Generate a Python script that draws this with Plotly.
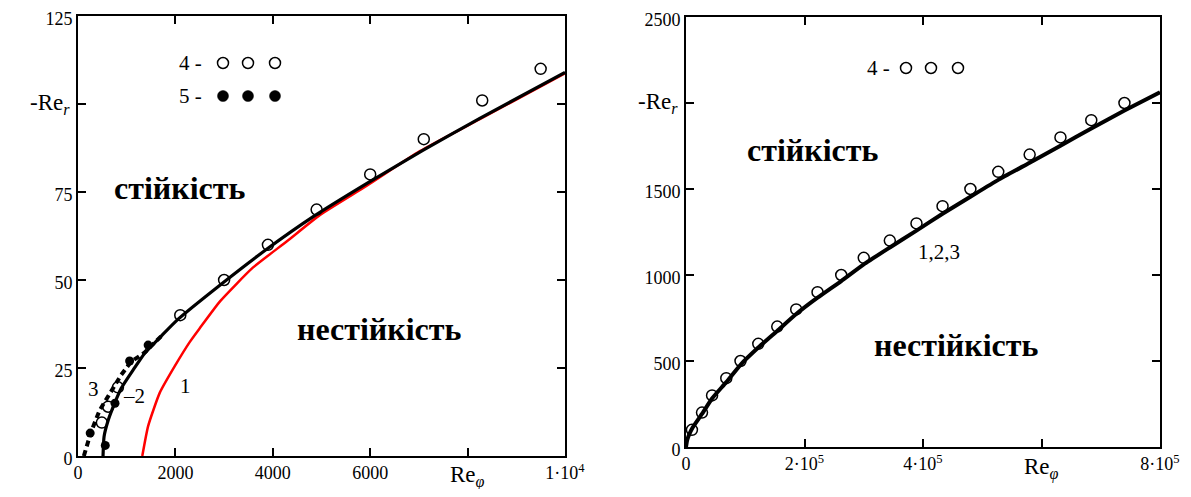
import plotly.graph_objects as go

# ---------------- data: left panel ----------------
re_phi_1 = [1320, 1440, 1680, 1990, 2300, 2500, 2920, 3590, 4290, 4970, 5930, 7020, 8250, 10000]
re_r_1 = [0, 8.5, 18, 25.6, 32.5, 36.3, 44, 53.5, 61, 68.5, 76.8, 86.6, 95.7, 108.7]

re_phi_2 = [514, 535, 617, 753, 890, 1130, 1370, 1705, 2050, 2920, 3880, 4830, 5950, 7080, 8250, 10000]
re_r_2 = [0, 5.5, 10, 15, 19.3, 24.4, 29.2, 34, 38.8, 48.6, 58.8, 68.0, 77.6, 86.8, 95.9, 109]

re_phi_3 = [120, 270, 445, 680, 885, 1090, 1370, 1705]
re_r_3 = [0, 6.9, 13, 18.3, 23, 26.8, 29.4, 34]

re_phi_4 = [490, 620, 820, 2100, 3000, 3900, 4900, 6000, 7100, 8300, 9500]
re_r_4 = [9.5, 14, 19.5, 40, 50, 60, 70, 80, 90, 101, 110]

re_phi_5 = [250, 560, 760, 1060, 1440]
re_r_5 = [6.5, 3, 15, 27, 31.5]

left_xticks = [0, 2000, 4000, 6000, 8000, 10000]
left_xtext = ["0", "2000", "4000", "6000", "", "1·10<sup>4</sup>"]
left_yticks = [0, 25, 50, 75, 100, 125]
left_ytext = ["0", "25", "50", "75", "", "125"]

# ---------------- data: right panel ----------------
re_phi_c = [0, 2e3, 5e3, 11e3, 27e3, 44e3, 68e3, 92e3, 122e3, 154e3, 186e3, 222e3, 262e3, 300e3,
            344e3, 389e3, 433e3, 480e3, 527e3, 580e3, 632e3, 684e3, 740e3, 800e3]
re_r_c = [0, 40, 70, 112, 192, 282, 377, 478, 578, 675, 773, 868, 965, 1062,
          1160, 1258, 1356, 1455, 1553, 1653, 1752, 1852, 1956, 2062]

re_phi_o = [10e3, 27e3, 44e3, 68e3, 92e3, 122e3, 154e3, 186e3, 222e3, 262e3, 300e3, 344e3,
            389e3, 433e3, 480e3, 527e3, 580e3, 632e3, 684e3, 740e3]
re_r_o = [100, 200, 300, 400, 500, 600, 700, 800, 900, 1000, 1100, 1200,
          1300, 1400, 1500, 1600, 1700, 1800, 1900, 2000]

right_xticks = [0, 2e5, 4e5, 6e5, 8e5]
right_xtext = ["0", "2·10<sup>5</sup>", "4·10<sup>5</sup>", "", "8·10<sup>5</sup>"]
right_yticks = [0, 500, 1000, 1500, 2000, 2500]
right_ytext = ["0", "500", "1000", "1500", "", "2500"]

PAGE_W, PAGE_H = 1191, 497
OFF = 8  # default body margin of the html page
W, H = PAGE_W - 2 * OFF, PAGE_H - 2 * OFF
SERIF = "Liberation Serif"

fig = go.Figure()

# left panel traces
fig.add_trace(go.Scatter(x=re_phi_3, y=re_r_3, mode="lines",
                         line=dict(color="black", width=4, dash="6px,4px"), xaxis="x", yaxis="y"))
fig.add_trace(go.Scatter(x=re_phi_1, y=re_r_1, mode="lines",
                         line=dict(color="#ff0000", width=2.5, shape="spline", smoothing=0.5), xaxis="x", yaxis="y"))
fig.add_trace(go.Scatter(x=re_phi_2, y=re_r_2, mode="lines",
                         line=dict(color="black", width=3.2, shape="spline", smoothing=0.5), xaxis="x", yaxis="y"))
fig.add_trace(go.Scatter(x=re_phi_4, y=re_r_4, mode="markers",
                         marker=dict(symbol="circle-open", size=11, color="black", line=dict(width=1.5)),
                         xaxis="x", yaxis="y"))
fig.add_trace(go.Scatter(x=re_phi_5, y=re_r_5, mode="markers",
                         marker=dict(symbol="circle", size=9, color="black"), xaxis="x", yaxis="y"))

# right panel traces
fig.add_trace(go.Scatter(x=re_phi_c, y=re_r_c, mode="lines",
                         line=dict(color="black", width=4, shape="spline", smoothing=0.5), xaxis="x2", yaxis="y2"))
fig.add_trace(go.Scatter(x=re_phi_o, y=re_r_o, mode="markers",
                         marker=dict(symbol="circle-open", size=11, color="black", line=dict(width=1.5)),
                         xaxis="x2", yaxis="y2"))

# panel geometry (page pixels -> paper)
L = dict(x0=78, x1=565, y0=16, y1=456)
R = dict(x0=686, x1=1160, y0=17, y1=447)


def px(x):
    return (x - OFF) / W


def py(y):
    return 1 - (y - OFF) / H


axis_common = dict(showline=True, linecolor="black", linewidth=1.6, mirror="ticks",
                   ticks="inside", ticklen=8, tickwidth=1.5, tickcolor="black",
                   showgrid=False, zeroline=False, automargin=False, ticklabeloverflow="allow",
                   tickfont=dict(family=SERIF, size=18, color="black"))

fig.update_layout(
    width=W, height=H, margin=dict(l=0, r=0, t=0, b=0, autoexpand=False),
    paper_bgcolor="white", plot_bgcolor="white", showlegend=False,
    xaxis=dict(domain=[px(L["x0"]), px(L["x1"])], range=[0, 10000], anchor="y",
               tickmode="array", tickvals=left_xticks, ticktext=left_xtext, **axis_common),
    yaxis=dict(domain=[py(L["y1"]), py(L["y0"])], range=[0, 125], anchor="x", ticklabelshift=3,
               tickmode="array", tickvals=left_yticks, ticktext=left_ytext, **axis_common),
    xaxis2=dict(domain=[px(R["x0"]), px(R["x1"])], range=[0, 8e5], anchor="y2",
                tickmode="array", tickvals=right_xticks, ticktext=right_xtext, **axis_common),
    yaxis2=dict(domain=[py(R["y1"]), py(R["y0"])], range=[0, 2500], anchor="x2", ticklabelshift=3,
                tickmode="array", tickvals=right_yticks, ticktext=right_ytext, **axis_common),
)

ann = []
big = dict(family=SERIF, size=32, color="black")
lab = dict(family=SERIF, size=21, color="black")
axl = dict(family=SERIF, size=23, color="black")

# axis label texts (placed at the 100 / 8000 / 2000 / 6e5 tick positions)
ann.append(dict(text="-Re<i><sub>r</sub></i>", xref="paper", yref="y", x=px(L["x0"] - 6), y=100,
                xanchor="right", yanchor="middle", showarrow=False, font=axl))
ann.append(dict(text="Re<sub><i>φ</i></sub>", xref="x", yref="paper", x=8000, y=py(476),
                xanchor="center", yanchor="middle", showarrow=False, font=axl))
ann.append(dict(text="-Re<i><sub>r</sub></i>", xref="paper", yref="y2", x=px(R["x0"] - 6), y=2000,
                xanchor="right", yanchor="middle", showarrow=False, font=axl))
ann.append(dict(text="Re<sub><i>φ</i></sub>", xref="x2", yref="paper", x=6e5, y=py(468),
                xanchor="center", yanchor="middle", showarrow=False, font=axl))

# region texts
ann.append(dict(text="<b>стійкість</b>", xref="x", yref="y", x=2094, y=76, showarrow=False, font=big))
ann.append(dict(text="<b>нестійкість</b>", xref="x", yref="y", x=6200, y=36, showarrow=False, font=big))
ann.append(dict(text="<b>стійкість</b>", xref="x2", yref="y2", x=2.14e5, y=1725, showarrow=False, font=big))
ann.append(dict(text="<b>нестійкість</b>", xref="x2", yref="y2", x=4.56e5, y=591, showarrow=False, font=big))

# curve labels
ann.append(dict(text="3", xref="x", yref="y", x=308, y=19, showarrow=False, font=lab))
ann.append(dict(text="–2", xref="x", yref="y", x=1150, y=17, showarrow=False, font=lab))
ann.append(dict(text="1", xref="x", yref="y", x=2200, y=20, showarrow=False, font=lab))
ann.append(dict(text="1,2,3", xref="x2", yref="y2", x=4.27e5, y=1135, showarrow=False, font=lab))

# legend keys
legend_rows = [("4 -", 63, False), ("5 -", 96, True)]
shapes = []
for txt, ypix, filled in legend_rows:
    ann.append(dict(text=txt, xref="paper", yref="paper", x=px(190), y=py(ypix), xanchor="center",
                    yanchor="middle", showarrow=False, font=lab))
    for cx in (223, 248, 275):
        shapes.append(dict(type="circle", xref="paper", yref="paper",
                           x0=px(cx - 5.5), x1=px(cx + 5.5), y0=py(ypix + 5.5), y1=py(ypix - 5.5),
                           line=dict(color="black", width=1.5 if not filled else 0.5),
                           fillcolor="black" if filled else "rgba(0,0,0,0)"))

ann.append(dict(text="4 -", xref="paper", yref="paper", x=px(878), y=py(68), xanchor="center",
                yanchor="middle", showarrow=False, font=lab))
for cx in (906, 931, 958):
    shapes.append(dict(type="circle", xref="paper", yref="paper",
                       x0=px(cx - 5.5), x1=px(cx + 5.5), y0=py(68 + 5.5), y1=py(68 - 5.5),
                       line=dict(color="black", width=1.5), fillcolor="rgba(0,0,0,0)"))

fig.update_layout(annotations=ann, shapes=shapes)
fig.write_html("out.html")
